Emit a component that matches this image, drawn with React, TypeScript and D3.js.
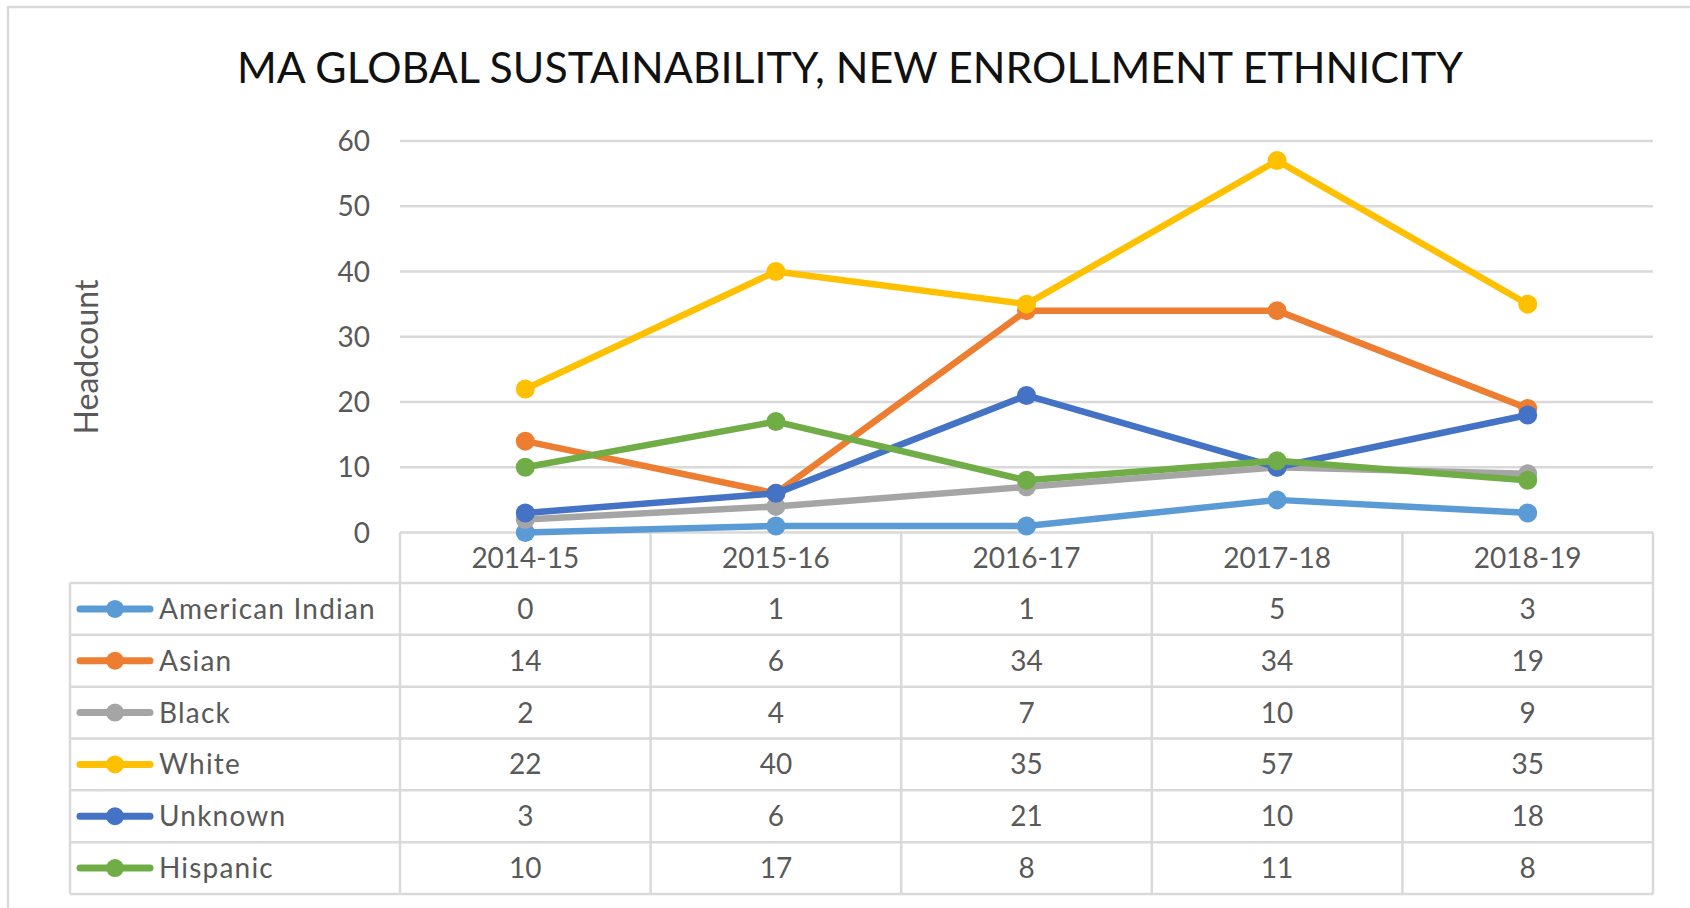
import React from 'react';
import * as d3 from 'd3';

const years = ['2014-15', '2015-16', '2016-17', '2017-18', '2018-19'];
const seriesNames = ['American Indian', 'Asian', 'Black', 'White', 'Unknown', 'Hispanic'];
const seriesColors = ['#5B9BD5', '#ED7D31', '#A5A5A5', '#FFC000', '#4472C4', '#70AD47'];

const americanIndian = [0, 1, 1, 5, 3];
const asian = [14, 6, 34, 34, 19];
const black = [2, 4, 7, 10, 9];
const white = [22, 40, 35, 57, 35];
const unknown = [3, 6, 21, 10, 18];
const hispanic = [10, 17, 8, 11, 8];

const yTicks = [0, 10, 20, 30, 40, 50, 60];

const allValues = [americanIndian, asian, black, white, unknown, hispanic];

export default function App() {
  const width = 1690;
  const height = 908;
  const font = 'Lato, "Open Sans", sans-serif';
  const grid = '#D9D9D9';
  const textColor = '#595959';

  const plotLeft = 400;
  const plotRight = 1653;
  const tableLeft = 70;

  const x = d3.scaleBand().domain(years).range([plotLeft, plotRight]).padding(0);
  const cx = (d: string) => (x(d) as number) + x.bandwidth() / 2;
  const y = d3.scaleLinear().domain([0, 60]).range([532.5, 141]);

  const headerTop = y(0);
  const headerBottom = 583;
  const rows = d3.scaleBand().domain(seriesNames).range([headerBottom, 894]).padding(0);
  const tableBottom = 894;

  const line = d3
    .line<number>()
    .x((_, i) => cx(years[i]))
    .y((v) => y(v));

  return (
    <svg
      width={width}
      height={height}
      style={{ position: 'absolute', left: 0, top: 0, background: '#fff' }}
      fontFamily={font}
    >
      {/* chart border */}
      <path d={`M8,${height + 5} L8,7 L${width + 5},7`} fill="none" stroke={grid} strokeWidth={2.5} />

      <text x={850} y={83} textAnchor="middle" fontSize={43} fill="#111" textLength={1226} lengthAdjust="spacingAndGlyphs">
        MA GLOBAL SUSTAINABILITY, NEW ENROLLMENT ETHNICITY
      </text>

      <text
        transform={`translate(98,357) rotate(-90)`}
        textAnchor="middle"
        fontSize={32}
        fill={textColor}
      >
        Headcount
      </text>

      {/* gridlines and y ticks */}
      {yTicks.map((t) => (
        <g key={t}>
          <line x1={plotLeft} x2={plotRight} y1={y(t)} y2={y(t)} stroke={grid} strokeWidth={2.5} />
          <text x={370} y={y(t)} dy="0.36em" textAnchor="end" fontSize={28} fill={textColor}>
            {t}
          </text>
        </g>
      ))}

      {/* data table */}
      {seriesNames.map((s) => (
        <line
          key={'h' + s}
          x1={tableLeft}
          x2={plotRight}
          y1={(rows(s) as number) + rows.bandwidth()}
          y2={(rows(s) as number) + rows.bandwidth()}
          stroke={grid}
          strokeWidth={2.5}
        />
      ))}
      <line x1={tableLeft} x2={plotRight} y1={headerBottom} y2={headerBottom} stroke={grid} strokeWidth={2.5} />
      <line x1={tableLeft} x2={tableLeft} y1={headerBottom} y2={tableBottom} stroke={grid} strokeWidth={2.5} />
      {years.map((yr) => (
        <line
          key={'v' + yr}
          x1={x(yr) as number}
          x2={x(yr) as number}
          y1={headerTop}
          y2={tableBottom}
          stroke={grid}
          strokeWidth={2.5}
        />
      ))}
      <line x1={plotRight} x2={plotRight} y1={headerTop} y2={tableBottom} stroke={grid} strokeWidth={2.5} />

      {years.map((yr) => (
        <text key={'t' + yr} x={cx(yr)} y={(headerTop + headerBottom) / 2} dy="0.36em" textAnchor="middle" fontSize={28} fill={textColor}>
          {yr}
        </text>
      ))}

      {seriesNames.map((s, si) => {
        const rc = (rows(s) as number) + rows.bandwidth() / 2;
        return (
          <g key={'r' + s}>
            <line x1={80} x2={150} y1={rc} y2={rc} stroke={seriesColors[si]} strokeWidth={7} strokeLinecap="round" />
            <circle cx={115} cy={rc} r={9} fill={seriesColors[si]} />
            <text x={159} y={rc} dy="0.36em" fontSize={28} fill={textColor} letterSpacing={1.2}>
              {s}
            </text>
            {allValues[si].map((v, i) => (
              <text key={i} x={cx(years[i])} y={rc} dy="0.36em" textAnchor="middle" fontSize={28} fill={textColor}>
                {v}
              </text>
            ))}
          </g>
        );
      })}

      {/* series lines */}
      {allValues.map((vals, si) => (
        <g key={'s' + si}>
          <path d={line(vals) as string} fill="none" stroke={seriesColors[si]} strokeWidth={6.5} strokeLinejoin="round" />
          {vals.map((v, i) => (
            <circle key={i} cx={cx(years[i])} cy={y(v)} r={9.5} fill={seriesColors[si]} />
          ))}
        </g>
      ))}
    </svg>
  );
}
